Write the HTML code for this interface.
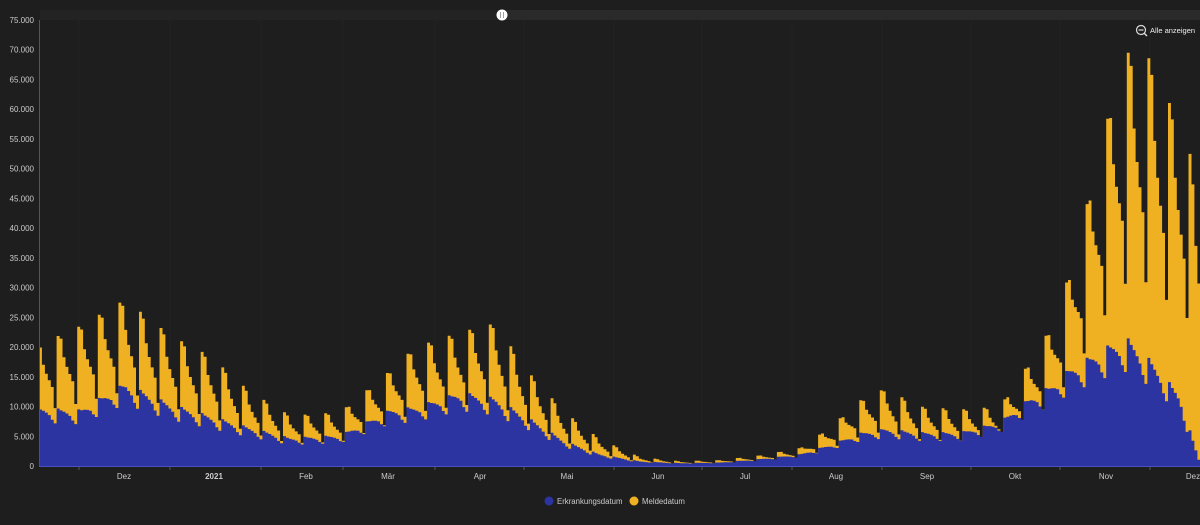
<!DOCTYPE html>
<html><head><meta charset="utf-8"><style>
html,body{margin:0;padding:0;background:#1e1e1e;width:1200px;height:525px;overflow:hidden;font-family:"Liberation Sans",sans-serif}
</style></head><body>
<svg id="s" width="1200" height="525" xmlns="http://www.w3.org/2000/svg" style="position:absolute;left:0;top:0">
<rect width="1200" height="525" fill="#1e1e1e"/>
<rect x="40" y="10" width="1160" height="10" fill="#2a2a2a"/>
<rect x="40" y="10" width="462" height="10" fill="#232323"/>
<circle cx="502" cy="15" r="5.5" fill="#fff"/>
<line x1="500.5" y1="12" x2="500.5" y2="18" stroke="#888" stroke-width="0.8"/>
<line x1="503.5" y1="12" x2="503.5" y2="18" stroke="#888" stroke-width="0.8"/>
<g id="grid"></g>
<path id="yel" fill="#efb022"/>
<path id="blu" fill="#2b34a0"/>
<line x1="39.5" y1="20" x2="39.5" y2="466" stroke="#555" stroke-width="1"/>
<line x1="39" y1="466.5" x2="1200" y2="466.5" stroke="#4a50c0" stroke-width="1"/>
<g id="lab" font-size="8" fill="#ccc"></g>
<circle cx="1141" cy="30" r="4.5" fill="none" stroke="#ddd" stroke-width="1.2"/>
<line x1="1138.5" y1="30" x2="1143.5" y2="30" stroke="#ddd" stroke-width="1.2"/>
<line x1="1144" y1="33" x2="1147" y2="36" stroke="#ddd" stroke-width="1.4"/>
<text x="1150" y="33" font-size="7.5" fill="#eee">Alle anzeigen</text>
<circle cx="549" cy="501" r="4.5" fill="#2b34a0"/>
<text x="557" y="504" font-size="7.8" fill="#ccc">Erkrankungsdatum</text>
<circle cx="634" cy="501" r="4.5" fill="#efb022"/>
<text x="642" y="504" font-size="7.8" fill="#ccc">Meldedatum</text>
</svg>
<script>
var Y=function(v){return 466-v*446/75000};
var lab=document.getElementById('lab'),grid=document.getElementById('grid'),ns='http://www.w3.org/2000/svg';
for(var i=0;i<=15;i++){var v=i*5000,t=document.createElementNS(ns,'text');t.setAttribute('x',34);t.setAttribute('y',Y(v)+3);t.setAttribute('text-anchor','end');t.textContent=v==0?'0':(v/1000)+'.000';lab.appendChild(t);}
var ticks=[79,170,261,343,435,524,614,702,792,882,971,1060,1150];
ticks.forEach(function(x){var l=document.createElementNS(ns,'line');l.setAttribute('x1',x);l.setAttribute('x2',x);l.setAttribute('y1',20);l.setAttribute('y2',466);l.setAttribute('stroke','#222');grid.appendChild(l);
var k=document.createElementNS(ns,'line');k.setAttribute('x1',x);k.setAttribute('x2',x);k.setAttribute('y1',466);k.setAttribute('y2',470);k.setAttribute('stroke','#555');grid.appendChild(k);});
var ml=[[124,'Dez'],[214,'2021'],[306,'Feb'],[388,'Mär'],[480,'Apr'],[567,'Mai'],[658,'Jun'],[745,'Jul'],[836,'Aug'],[927,'Sep'],[1015,'Okt'],[1106,'Nov'],[1193,'Dez']];
ml.forEach(function(m){var t=document.createElementNS(ns,'text');t.setAttribute('x',m[0]);t.setAttribute('y',479);t.setAttribute('text-anchor','middle');if(m[1]=='2021')t.setAttribute('font-weight','bold');t.textContent=m[1];lab.appendChild(t);});
var yk=[[40,20500],[80,23500],[125,28000],[170,22000],[210,18500],[250,12500],[290,8500],[340,9000],[390,16000],[415,20000],[460,22500],[495,24000],[530,15500],[565,9000],[600,4500],[640,1500],[680,800],[720,1000],[760,1800],[800,3000],[830,6500],[860,11000],[885,13000],[920,10000],[960,9500],[1000,10000],[1030,17500],[1050,23000],[1070,32500],[1090,46000],[1110,60000],[1128,69500],[1150,68500],[1168,61500],[1188,55000],[1200,40000]];
var bk=[[40,9800],[80,9500],[125,14000],[170,10500],[210,8500],[250,6500],[290,4800],[340,5200],[390,9500],[415,10000],[460,12500],[495,11500],[530,8000],[565,4200],[600,2000],[640,800],[680,500],[720,600],[760,1200],[800,2000],[830,3600],[860,5600],[885,6300],[920,5700],[960,5700],[1000,7500],[1030,11500],[1050,13500],[1070,16500],[1090,18500],[1110,20500],[1128,21500],[1150,18000],[1165,15000],[1180,12000],[1190,6000],[1200,500]];
function interp(a,x){if(x<=a[0][0])return a[0][1];for(var i=1;i<a.length;i++)if(x<=a[i][0]){var p=a[i-1],q=a[i],t=(x-p[0])/(q[0]-p[0]);return p[1]+t*(q[1]-p[1]);}return a[a.length-1][1];}
var wy=[1,0.97,0.82,0.74,0.68,0.62,0.45],wb=[1,0.97,0.95,0.92,0.88,0.8,0.74];
var dx=2.94,x0=39,n=Math.ceil((1200-x0)/dx);
function build(a,w){var d='M'+x0+' 466';for(var i=0;i<n;i++){var x=x0+i*dx,v=interp(a,x+dx/2)*w[(i+1)%7];var y=Y(v).toFixed(1);d+=' L'+x.toFixed(1)+' '+y+' L'+Math.min(1200,x+dx).toFixed(1)+' '+y;}d+=' L1200 466 Z';return d;}
document.getElementById('yel').setAttribute('d',build(yk,wy));
document.getElementById('blu').setAttribute('d',build(bk,wb));
</script>
</body></html>
